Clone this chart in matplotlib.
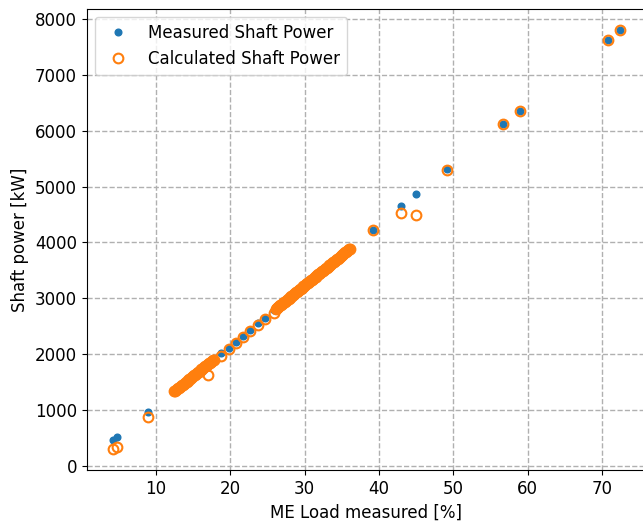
import matplotlib
matplotlib.use('Agg')
import matplotlib.pyplot as plt

# Isolated samples: ME load [%], measured and calculated shaft power [kW]
point_load = [4.18, 4.72, 8.88, 16.95, 18.8, 19.9, 20.75, 21.7, 22.7, 23.75,
              24.65, 25.95, 39.2, 43.0, 45.04, 49.2, 56.7, 59.0, 70.8, 72.4]
point_measured = [465, 524, 972, 1820, 2017, 2120, 2225, 2335, 2440, 2550,
                  2650, 2790, 4223, 4653, 4868, 5315, 6120, 6358, 7623, 7802]
point_calculated = [304, 345, 882, 1630, 1968, 2095, 2195, 2315, 2415, 2525,
                    2625, 2730, 4215, 4533, 4492, 5305, 6112, 6350, 7615, 7795]

# Dense low-load run (measured and calculated coincide)
run_a_load = [12.5, 12.625, 12.75, 12.875, 13.0, 13.125, 13.25, 13.375, 13.5,
              13.625, 13.75, 13.875, 14.0, 14.125, 14.25, 14.375, 14.5, 14.625,
              14.75, 14.875, 15.0, 15.125, 15.25, 15.375, 15.5, 15.625, 15.75,
              15.875, 16.0, 16.125, 16.25, 16.375, 16.5, 16.625, 16.75, 16.875,
              17.0, 17.125, 17.25, 17.375, 17.5, 17.625, 17.75]
run_a_power = [1336, 1349, 1363, 1376, 1390, 1403, 1417, 1430, 1444,
               1457, 1471, 1484, 1498, 1511, 1525, 1538, 1552, 1565,
               1579, 1593, 1606, 1620, 1633, 1647, 1660, 1674, 1687,
               1701, 1714, 1728, 1741, 1755, 1768, 1782, 1795, 1809,
               1822, 1836, 1850, 1863, 1877, 1890, 1904]

# Dense mid-load run
run_b_load = [26.1, 26.225, 26.35, 26.475, 26.6, 26.725, 26.85, 26.975, 27.1,
              27.225, 27.35, 27.475, 27.6, 27.725, 27.85, 27.975, 28.1, 28.225,
              28.35, 28.475, 28.6, 28.725, 28.85, 28.975, 29.1, 29.225, 29.35,
              29.475, 29.6, 29.725, 29.85, 29.975, 30.1, 30.225, 30.35, 30.475,
              30.6, 30.725, 30.85, 30.975, 31.1, 31.225, 31.35, 31.475, 31.6,
              31.725, 31.85, 31.975, 32.1, 32.225, 32.35, 32.475, 32.6, 32.725,
              32.85, 32.975, 33.1, 33.225, 33.35, 33.475, 33.6, 33.725, 33.85,
              33.975, 34.1, 34.225, 34.35, 34.475, 34.6, 34.725, 34.85, 34.975,
              35.1, 35.225, 35.35, 35.475, 35.6, 35.725, 35.85, 35.975, 36.1]
run_b_power = [2807, 2821, 2834, 2848, 2861, 2875, 2888, 2902, 2915,
               2929, 2942, 2956, 2969, 2983, 2996, 3010, 3023, 3037,
               3050, 3064, 3078, 3091, 3105, 3118, 3132, 3145, 3159,
               3172, 3186, 3199, 3213, 3226, 3240, 3253, 3267, 3280,
               3294, 3307, 3321, 3335, 3348, 3362, 3375, 3389, 3402,
               3416, 3429, 3443, 3456, 3470, 3483, 3497, 3510, 3524,
               3537, 3551, 3564, 3578, 3591, 3605, 3619, 3632, 3646,
               3659, 3673, 3686, 3700, 3713, 3727, 3740, 3754, 3767,
               3781, 3794, 3808, 3821, 3835, 3848, 3862, 3875, 3889]

load = point_load + run_a_load + run_b_load
measured_power = point_measured + run_a_power + run_b_power
calculated_power = point_calculated + run_a_power + run_b_power

plt.rcParams['font.size'] = 12

fig = plt.figure(figsize=(6.43, 5.23), dpi=100)
ax = fig.add_axes([0.135, 0.101, 0.868, 0.882])

ax.plot(load, measured_power, 'o', color='#1f77b4', markersize=4.8,
        label='Measured Shaft Power')
ax.plot(load, calculated_power, 'o', color='#ff7f0e', markerfacecolor='none',
        markersize=7, markeredgewidth=1.5, label='Calculated Shaft Power')

ax.set_xlim(0.7, 75.8)
ax.set_ylim(-75, 8180)
ax.set_xticks([10, 20, 30, 40, 50, 60, 70])
ax.set_xlabel('ME Load measured [%]')
ax.set_ylabel('Shaft power [kW]')
ax.grid(True, linestyle='--', color='#b0b0b0', linewidth=1)
ax.legend(loc='upper left')

fig.savefig('out.png', dpi=100)
